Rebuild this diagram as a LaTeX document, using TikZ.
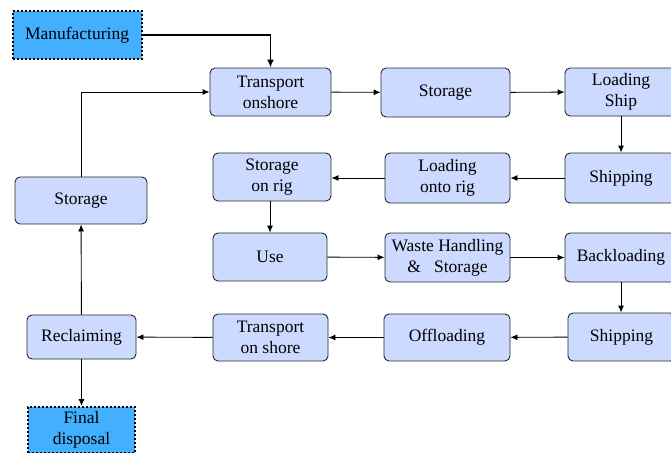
\documentclass[tikz,border=0pt]{standalone}
\usepackage{fontspec}
\setmainfont{Liberation Serif}
\usetikzlibrary{arrows.meta}
\definecolor{boxfill}{RGB}{205,218,255}
\definecolor{endfill}{RGB}{66,175,255}
\definecolor{boxline}{RGB}{40,40,40}
\begin{document}
\begin{tikzpicture}[x=1pt,y=-1pt,
  procbox/.style={draw=boxline,line width=0.9pt,fill=boxfill,rounded corners=5pt,
    align=center,inner sep=0pt,font=\rmfamily\fontsize{17.5}{21}\selectfont},
  endbox/.style={draw=black,line width=2pt,dotted,fill=endfill,
    align=center,inner sep=0pt,font=\rmfamily\fontsize{17.5}{21}\selectfont},
  flow/.style={-{Latex[length=7pt,width=6pt]},line width=0.9pt,black},
  thickflow/.style={-{Latex[length=8pt,width=7pt]},line width=1.8pt,black}]
\useasboundingbox (0,0) rectangle (671,452);
% nodes
\node[endbox,minimum width=129pt,minimum height=48pt] (manu) at (77,35) {Manufacturing};
\node[procbox,minimum width=121pt,minimum height=48pt] (trans1) at (270.5,92) {Transport\\onshore};
\node[procbox,minimum width=129pt,minimum height=49pt] (stor1) at (445.5,92.5) {Storage};
\node[procbox,minimum width=112pt,minimum height=48pt] (loadship) at (621,92) {Loading\\Ship};
\node[procbox,minimum width=112pt,minimum height=50pt] (ship1) at (621,178) {Shipping};
\node[procbox,minimum width=125pt,minimum height=50pt] (loadrig) at (447.5,178) {Loading\\onto rig};
\node[procbox,minimum width=118pt,minimum height=48pt] (storrig) at (272,177) {Storage\\on rig};
\node[procbox,minimum width=132pt,minimum height=47pt] (stor2) at (81,200.5) {Storage};
\node[procbox,minimum width=114pt,minimum height=48pt] (use) at (270,257) {Use};
\node[procbox,minimum width=125pt,minimum height=49pt] (waste) at (447.5,257.5) {Waste Handling\\\&\ \ \ Storage};
\node[procbox,minimum width=112pt,minimum height=49pt] (back) at (621,257.5) {Backloading};
\node[procbox,minimum width=107pt,minimum height=48pt] (ship2) at (621.5,337) {Shipping};
\node[procbox,minimum width=126pt,minimum height=47pt] (offl) at (447,337.5) {Offloading};
\node[procbox,minimum width=115pt,minimum height=47pt] (trans2) at (270.5,337.5) {Transport\\on shore};
\node[procbox,minimum width=109pt,minimum height=44pt] (recl) at (81.5,337) {Reclaiming};
\node[endbox,minimum width=107pt,minimum height=46pt] (final) at (81.5,430) {Final\\disposal};
% connectors
\draw[thickflow] (manu.east) -| (trans1.north);
\draw[flow] (stor2.north) |- (trans1.west);
\draw[flow] (trans1) -- (stor1);
\draw[flow] (stor1) -- (loadship);
\draw[flow] (loadship) -- (ship1);
\draw[flow] (ship1) -- (loadrig);
\draw[flow] (loadrig) -- (storrig.east |- loadrig);
\draw[flow] (storrig.south -| use) -- (use.north);
\draw[flow] (use) -- (waste);
\draw[flow] (waste) -- (back);
\draw[flow] (back.south) -- (back.south |- ship2.north);
\draw[flow] (ship2) -- (offl);
\draw[flow] (offl) -- (trans2);
\draw[flow] (trans2) -- (recl);
\draw[flow] (recl) -- (stor2);
\draw[flow] (recl) -- (final);
\end{tikzpicture}
\end{document}
